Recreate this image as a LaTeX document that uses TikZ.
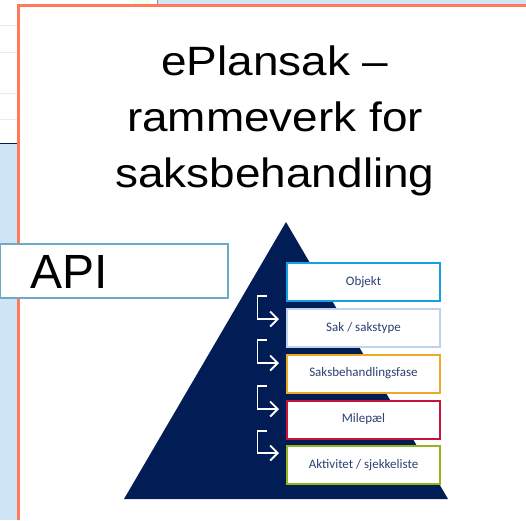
\documentclass[tikz,border=0pt]{standalone}
\usepackage{fontspec}
\setmainfont{Liberation Sans}
\newfontfamily\boxfont{Carlito}
\usetikzlibrary{arrows.meta}
\definecolor{stripblue}{RGB}{207,228,244}
\definecolor{navy}{RGB}{2,29,86}
\definecolor{frameorange}{RGB}{255,122,92}
\definecolor{apiblue}{RGB}{110,170,200}
\definecolor{boxtext}{RGB}{45,64,115}
\definecolor{cObjekt}{RGB}{20,160,225}
\definecolor{cSak}{RGB}{190,210,235}
\definecolor{cFase}{RGB}{235,170,40}
\definecolor{cMile}{RGB}{200,20,60}
\definecolor{cAkt}{RGB}{150,180,30}
\tikzset{
  levelbox/.style={draw=#1, line width=2pt, fill=white, minimum width=153pt,
    minimum height=38pt, anchor=north west, inner sep=0pt,
    font=\boxfont\fontsize{13}{15}\selectfont, text=boxtext},
  flowarrow/.style={draw=white, line width=1.9pt,
    -{Straight Barb[length=7.5pt,width=15pt,line width=1.9pt]}},
  titleline/.style={anchor=base, inner sep=0pt, font=\fontsize{41}{48}\selectfont}
}
\begin{document}
\begin{tikzpicture}[x=1pt,y=-1pt]
\useasboundingbox (0,0) rectangle (526,520);
\fill[white] (0,0) rectangle (526,520);
% background slide strip
\fill[stripblue] (0,143) rectangle (17,520);
\draw[navy, line width=1pt] (0,143) -- (17,143);
\foreach \yy in {25,52,93,119} \draw[black!8, line width=0.8pt] (0,\yy) -- (17,\yy);
\fill[stripblue] (157,0) rectangle (526,5);
\fill[green!6!white] (133,0) rectangle (150,5);
\draw[black!45, line width=0.8pt] (157,0) -- (157,5);
% frame
\draw[frameorange, line width=2.6pt] (526,5.3) -- (18.3,5.3) -- (18.3,520);
% title
\node[titleline] (t1) at (275,75) {\scalebox{1.12}[1]{ePlansak –}};
\node[titleline] (t2) at (275,131) {\scalebox{1.12}[1]{rammeverk for}};
\node[titleline] (t3) at (275,187) {\scalebox{1.12}[1]{saksbehandling}};
% API box
\node[draw=apiblue, line width=2pt, fill=white, minimum width=228pt, minimum height=54pt,
      anchor=north west, inner sep=0pt] (api) at (-1,243) {};
\node[anchor=base west, inner sep=0pt, font=\fontsize{48}{52}\selectfont] (apitext) at (30,288) {API};
% pyramid
\fill[navy] (286,222) -- (448,499) -- (124,499) -- cycle;
% level boxes
\node[levelbox=cObjekt] (b1) at (286,262) {Objekt};
\node[levelbox=cSak] (b2) at (286,308) {Sak / sakstype};
\node[levelbox=cFase] (b3) at (286,353.5) {Saksbehandlingsfase};
\node[levelbox=cMile] (b4) at (286,399.5) {Milepæl};
\node[levelbox=cAkt] (b5) at (286,445) {Aktivitet / sjekkeliste};
% arrows
\foreach \i/\yt/\yh in {1/296/319, 2/340/363, 3/386/409, 4/431/453} {
  \coordinate (s\i) at (267,\yt);
  \coordinate (e\i) at (279,\yh);
  \draw[flowarrow] (s\i) -| (e\i -| 257.5,0) -- (e\i);
}
\end{tikzpicture}
\end{document}
